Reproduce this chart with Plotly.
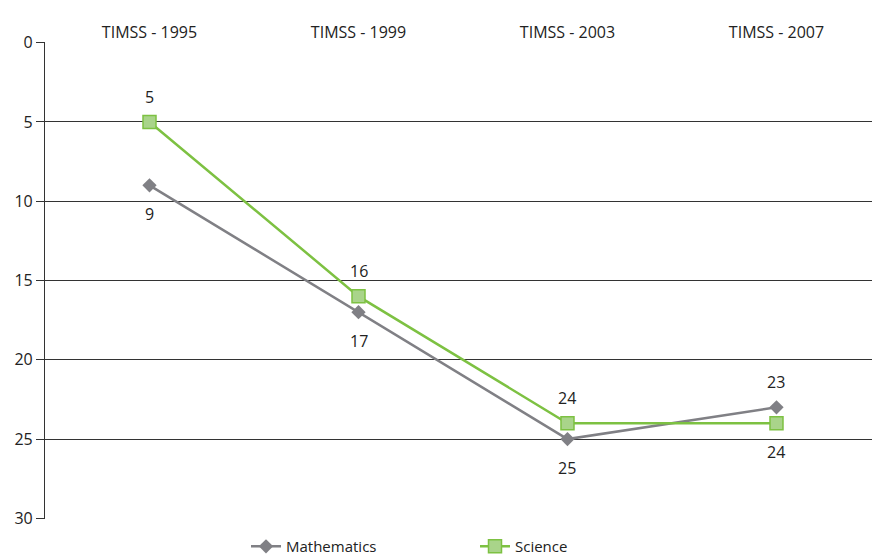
import plotly.graph_objects as go

categories = ["TIMSS - 1995", "TIMSS - 1999", "TIMSS - 2003", "TIMSS - 2007"]
math_vals = [9, 17, 25, 23]
sci_vals = [5, 16, 24, 24]
math_label_above = [False, False, False, True]
sci_label_above = [True, True, True, False]
y_ticks = [0, 5, 10, 15, 20, 25, 30]

FONT = "Open Sans, Lato, sans-serif"
MATH_C = "#808085"
SCI_C = "#7dc142"

fig = go.Figure()
fig.add_trace(go.Scatter(
    x=categories, y=math_vals, name="Mathematics",
    mode="lines+markers",
    line=dict(color=MATH_C, width=2.5),
    marker=dict(symbol="diamond", size=11, color=MATH_C),
))
fig.add_trace(go.Scatter(
    x=categories, y=sci_vals, name="Science",
    mode="lines+markers",
    line=dict(color=SCI_C, width=2.5),
    marker=dict(symbol="square", size=13, color="#a9d48a",
                line=dict(color=SCI_C, width=1.5)),
))

for vals, above in ((math_vals, math_label_above), (sci_vals, sci_label_above)):
    for c, v, a in zip(categories, vals, above):
        fig.add_annotation(x=c, y=v, text=str(v), showarrow=False,
                           yshift=25 if a else -29,
                           font=dict(size=16, family=FONT, color="#222222"))

fig.update_layout(
    width=872, height=555,
    margin=dict(l=45, r=0, t=42, b=36),
    paper_bgcolor="white", plot_bgcolor="white",
    font=dict(family=FONT, size=16, color="#222222"),
    showlegend=True,
    legend=dict(orientation="h", x=(246 - 45) / 827, xanchor="left",
                yref="container", y=0.045, yanchor="top",
                entrywidth=184, entrywidthmode="pixels",
                tracegroupgap=0, borderwidth=0,
                font=dict(size=15, family=FONT, color="#222222")),
    xaxis=dict(side="top", type="category", range=[-0.5, 3.457],
               showgrid=False, showline=False, ticks="", automargin=False,
               tickfont=dict(size=16, family=FONT)),
    yaxis=dict(range=[30.04, -0.04], tickvals=y_ticks, showgrid=True,
               gridcolor="#333333", gridwidth=1.2, automargin=False,
               showline=True, linecolor="#333333", linewidth=1.2,
               ticks="outside", ticklen=8, tickcolor="#333333",
               zeroline=False, tickfont=dict(size=16, family=FONT)),
)

fig.write_html("out.html", config={"displayModeBar": False},
               post_script="document.body.style.margin='0';")
